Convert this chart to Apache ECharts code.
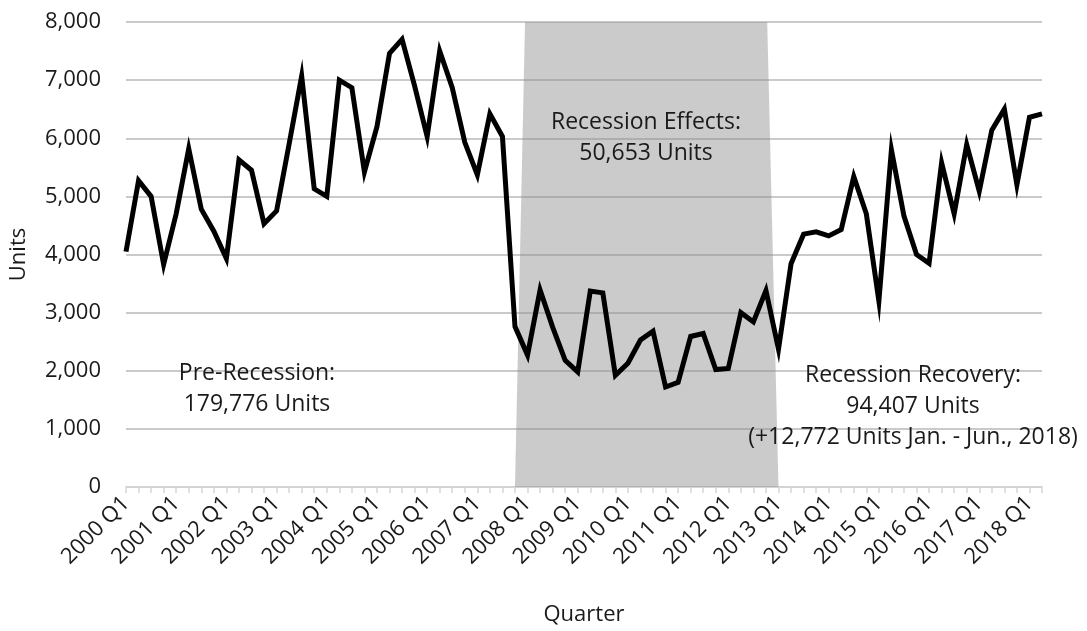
<!DOCTYPE html>
<html>
<head>
<meta charset="utf-8">
<script src="https://cdn.jsdelivr.net/npm/echarts@6/dist/echarts.min.js"></script>
<style>
html,body{margin:0;padding:0;background:#ffffff;}
#chart{width:1087px;height:631px;}
</style>
</head>
<body>
<div id="chart"></div>
<script>
const quarters = [
  "2000 Q1","2000 Q2","2000 Q3","2000 Q4",
  "2001 Q1","2001 Q2","2001 Q3","2001 Q4",
  "2002 Q1","2002 Q2","2002 Q3","2002 Q4",
  "2003 Q1","2003 Q2","2003 Q3","2003 Q4",
  "2004 Q1","2004 Q2","2004 Q3","2004 Q4",
  "2005 Q1","2005 Q2","2005 Q3","2005 Q4",
  "2006 Q1","2006 Q2","2006 Q3","2006 Q4",
  "2007 Q1","2007 Q2","2007 Q3","2007 Q4",
  "2008 Q1","2008 Q2","2008 Q3","2008 Q4",
  "2009 Q1","2009 Q2","2009 Q3","2009 Q4",
  "2010 Q1","2010 Q2","2010 Q3","2010 Q4",
  "2011 Q1","2011 Q2","2011 Q3","2011 Q4",
  "2012 Q1","2012 Q2","2012 Q3","2012 Q4",
  "2013 Q1","2013 Q2","2013 Q3","2013 Q4",
  "2014 Q1","2014 Q2","2014 Q3","2014 Q4",
  "2015 Q1","2015 Q2","2015 Q3","2015 Q4",
  "2016 Q1","2016 Q2","2016 Q3","2016 Q4",
  "2017 Q1","2017 Q2","2017 Q3","2017 Q4",
  "2018 Q1","2018 Q2"
];

const units = [
  4050, 5270, 5000, 3830,
  4700, 5820, 4780, 4400,
  3930, 5630, 5450, 4530,
  4750, 5900, 7070, 5130,
  5000, 7000, 6870, 5420,
  6200, 7460, 7700, 6900,
  6030, 7500, 6870, 5930,
  5370, 6420, 6030, 2760,
  2270, 3390, 2750, 2180,
  1980, 3370, 3340, 1920,
  2130, 2530, 2680, 1720,
  1800, 2590, 2640, 2020,
  2040, 3000, 2840, 3380,
  2370, 3840, 4350, 4390,
  4320, 4430, 5340, 4700,
  3200, 5800, 4660, 4000,
  3850, 5580, 4700, 5890,
  5090, 6140, 6500, 5200,
  6360, 6420
];

// Recession shaded band: category positions at bottom (0) and top (8000)
const recessionBand = [[31, 52, 31.8, 51.1, 0, 8000]];

const yMin = 0, yMax = 8000, yStep = 1000;

const annotations = [
  { text: "Recession Effects:\n50,653 Units", x: 646, y: 138 },
  { text: "Pre-Recession:\n179,776 Units", x: 257, y: 389 },
  { text: "Recession Recovery:\n94,407 Units\n(+12,772 Units Jan. - Jun., 2018)", x: 913, y: 406 }
];

const FONT = "'Open Sans', 'Noto Sans', sans-serif";
const TXT = "#1a1a1a";

const chart = echarts.init(document.getElementById('chart'), null, {renderer: 'canvas'});

function xAt(api, v, yv) {
  const f = Math.floor(v);
  const a = api.coord([f, yv]);
  const b = api.coord([f + 1, yv]);
  return [a[0] + (b[0] - a[0]) * (v - f), a[1]];
}

const option = {
  animation: false,
  backgroundColor: '#ffffff',
  grid: { left: 125, right: 45, top: 22, bottom: 139, containLabel: false },
  xAxis: {
    type: 'category',
    data: quarters,
    boundaryGap: false,
    name: 'Quarter',
    nameLocation: 'middle',
    nameGap: 117,
    nameTextStyle: { fontFamily: FONT, fontSize: 22, color: TXT },
    axisLine: { show: true, lineStyle: { color: '#d6d6d6', width: 1.5 } },
    axisTick: { show: true, interval: 0, length: 6, lineStyle: { color: '#d6d6d6', width: 1.5 } },
    axisLabel: { interval: 3, rotate: 45, fontFamily: FONT, fontSize: 22, color: TXT, margin: 13 },
    splitLine: { show: false }
  },
  yAxis: {
    type: 'value',
    min: yMin, max: yMax, interval: yStep,
    name: 'Units',
    nameLocation: 'middle',
    nameGap: 96,
    nameTextStyle: { fontFamily: FONT, fontSize: 22, color: TXT },
    axisLine: { show: false },
    axisTick: { show: false },
    axisLabel: {
      fontFamily: FONT, fontSize: 22, color: TXT, margin: 25,
      formatter: v => v.toLocaleString('en-US')
    },
    splitLine: { show: true, lineStyle: { color: '#b9b9b9', width: 1.5 } }
  },
  series: [
    {
      type: 'custom',
      data: recessionBand,
      encode: { x: 0, y: 4 },
      z: 1,
      silent: true,
      renderItem: function (params, api) {
        const b0 = api.value(0), b1 = api.value(1), t0 = api.value(2), t1 = api.value(3);
        const y0 = api.value(4), y1 = api.value(5);
        const p1 = xAt(api, b0, y0);
        const p2 = xAt(api, b1, y0);
        const p3 = xAt(api, t1, y1);
        const p4 = xAt(api, t0, y1);
        return {
          type: 'polygon',
          shape: { points: [p1, p2, p3, p4] },
          style: { fill: 'rgba(140,140,140,0.45)', stroke: null }
        };
      }
    },
    {
      type: 'line',
      data: units,
      z: 3,
      showSymbol: false,
      symbol: 'none',
      lineStyle: { color: '#000000', width: 5, join: 'miter' }
    }
  ],
  graphic: annotations.map(a => ({
    type: 'text',
    z: 10,
    x: a.x,
    y: a.y,
    style: {
      text: a.text,
      fill: TXT,
      font: "23px 'Open Sans', 'Noto Sans', sans-serif",
      textAlign: 'center',
      textVerticalAlign: 'middle',
      lineHeight: 31
    }
  }))
};

chart.setOption(option);
</script>
</body>
</html>
